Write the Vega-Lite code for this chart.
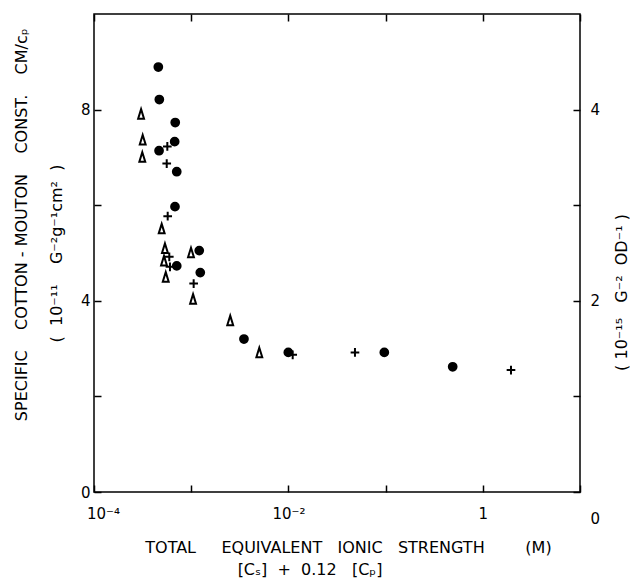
{
  "$schema": "https://vega.github.io/schema/vega-lite/v6.json",
  "width": 486,
  "height": 478,
  "autosize": "none",
  "padding": {"left": 94, "top": 14, "right": 50, "bottom": 88},
  "background": "white",
  "config": {
    "view": {"stroke": "black", "strokeWidth": 1.5},
    "font": "DejaVu Sans",
    "axis": {
      "domain": false,
      "grid": false,
      "tickColor": "black",
      "tickWidth": 1.5,
      "tickSize": -7,
      "labelColor": "black",
      "labelFont": "DejaVu Sans",
      "labelFontSize": 15,
      "titleFont": "DejaVu Sans",
      "titleFontSize": 16,
      "titleFontWeight": "normal",
      "titleColor": "black"
    }
  },
  "title": {
    "text": "[Cₛ]\u00a0\u00a0+\u00a0\u00a00.12\u00a0\u00a0\u00a0[Cₚ]",
    "orient": "bottom",
    "anchor": "middle",
    "frame": "group",
    "dx": -27,
    "offset": 7,
    "font": "DejaVu Sans",
    "fontSize": 16,
    "fontWeight": "normal",
    "color": "black"
  },
  "data": {
    "values": [
      {"series": "circle", "I": 0.000459, "cm": 8.89},
      {"series": "circle", "I": 0.000470, "cm": 8.21},
      {"series": "circle", "I": 0.000685, "cm": 7.73},
      {"series": "circle", "I": 0.000676, "cm": 7.33},
      {"series": "circle", "I": 0.000467, "cm": 7.14},
      {"series": "circle", "I": 0.000710, "cm": 6.70},
      {"series": "circle", "I": 0.000681, "cm": 5.97},
      {"series": "circle", "I": 0.000710, "cm": 4.73},
      {"series": "circle", "I": 0.00121, "cm": 5.05},
      {"series": "circle", "I": 0.00124, "cm": 4.59},
      {"series": "circle", "I": 0.00349, "cm": 3.20},
      {"series": "circle", "I": 0.00998, "cm": 2.92},
      {"series": "circle", "I": 0.097, "cm": 2.92},
      {"series": "circle", "I": 0.49, "cm": 2.62},
      {"series": "plus", "I": 0.000568, "cm": 7.23},
      {"series": "plus", "I": 0.000560, "cm": 6.87},
      {"series": "plus", "I": 0.000573, "cm": 5.77},
      {"series": "plus", "I": 0.000595, "cm": 4.92},
      {"series": "plus", "I": 0.000605, "cm": 4.71},
      {"series": "plus", "I": 0.00106, "cm": 4.36},
      {"series": "plus", "I": 0.01107, "cm": 2.87},
      {"series": "plus", "I": 0.0484, "cm": 2.92},
      {"series": "plus", "I": 1.95, "cm": 2.55},
      {"series": "triangle", "I": 0.000305, "cm": 7.91},
      {"series": "triangle", "I": 0.000317, "cm": 7.37},
      {"series": "triangle", "I": 0.000314, "cm": 7.01},
      {"series": "triangle", "I": 0.000497, "cm": 5.51},
      {"series": "triangle", "I": 0.000537, "cm": 5.10},
      {"series": "triangle", "I": 0.000525, "cm": 4.84},
      {"series": "triangle", "I": 0.000547, "cm": 4.50},
      {"series": "triangle", "I": 0.000995, "cm": 5.01},
      {"series": "triangle", "I": 0.001045, "cm": 4.04},
      {"series": "triangle", "I": 0.00252, "cm": 3.59},
      {"series": "triangle", "I": 0.00502, "cm": 2.92}
    ]
  },
  "resolve": {"scale": {"y": "independent"}, "axis": {"x": "independent", "y": "independent"}},
  "layer": [
    {
      "mark": {"type": "point", "filled": true, "strokeWidth": 2, "opacity": 1},
      "encoding": {
        "x": {
          "field": "I",
          "type": "quantitative",
          "scale": {"type": "log", "domain": [0.0001, 10]},
          "axis": {
            "orient": "bottom",
            "values": [0.0001, 0.001, 0.01, 0.1, 1, 10],
            "labelExpr": "datum.value < 0.0002 ? '10⁻⁴' : (datum.value > 0.005 && datum.value < 0.02) ? '10⁻²' : (datum.value > 0.5 && datum.value < 2) ? '1' : ''",
            "labelOffset": {"condition": {"test": "datum.value < 0.0002", "value": 9}, "value": 0},
            "labelPadding": 21,
            "labelFlush": false,
            "labelOverlap": false,
            "titlePadding": 18,
            "title": "\u2800\u00a0\u00a0TOTAL\u00a0\u00a0\u00a0\u00a0\u00a0EQUIVALENT\u00a0\u00a0\u00a0IONIC\u00a0\u00a0\u00a0STRENGTH\u00a0\u00a0\u00a0\u00a0\u00a0\u00a0\u00a0\u00a0(M)"
          }
        },
        "y": {
          "field": "cm",
          "type": "quantitative",
          "scale": {"domain": [0, 10]},
          "axis": {
            "orient": "left",
            "values": [0, 2, 4, 6, 8],
            "labelExpr": "datum.value % 4 == 0 ? datum.label : ''",
            "labelPadding": 11,
            "titlePadding": 16,
            "titleLineHeight": 35,
            "title": ["\u2800\u00a0\u00a0\u00a0\u00a0\u00a0\u00a0\u00a0\u00a0\u00a0SPECIFIC\u00a0\u00a0\u00a0\u00a0COTTON\u00a0-\u00a0MOUTON\u00a0\u00a0\u00a0\u00a0CONST.\u00a0\u00a0\u00a0\u00a0CM/cₚ", "(\u00a0\u00a010⁻¹¹\u00a0\u00a0\u00a0\u00a0G⁻²g⁻¹cm²\u00a0\u00a0)"]
          }
        },
        "shape": {
          "field": "series",
          "type": "nominal",
          "scale": {"domain": ["circle", "plus", "triangle"], "range": ["circle", "M-1,0H1M0,-1V1", "M0,-1L0.62,1L-0.62,1Z"]},
          "legend": null
        },
        "fill": {
          "field": "series",
          "type": "nominal",
          "scale": {"domain": ["circle", "plus", "triangle"], "range": ["black", "white", "white"]},
          "legend": null
        },
        "size": {
          "field": "series",
          "type": "nominal",
          "scale": {"domain": ["circle", "plus", "triangle"], "range": [60, 90, 80]},
          "legend": null
        },
        "stroke": {"value": "black"}
      }
    },
    {
      "mark": {"type": "point", "opacity": 0},
      "encoding": {
        "x": {
          "datum": 1,
          "type": "quantitative",
          "scale": {"type": "log", "domain": [0.0001, 10]},
          "axis": {"orient": "top", "values": [0.0001, 0.001, 0.01, 0.1, 1, 10], "labels": false, "title": null}
        },
        "y": {
          "datum": 0,
          "type": "quantitative",
          "scale": {"domain": [0, 5]},
          "axis": {
            "orient": "right",
            "values": [0, 1, 2, 3, 4],
            "labelExpr": "datum.value % 2 == 0 ? datum.label : ''",
            "labelOffset": {"condition": {"test": "datum.value == 0", "value": 26}, "value": 0},
            "labelPadding": 17,
            "titleAngle": -90,
            "titleBaseline": "top",
            "titleY": 278,
            "titlePadding": 14,
            "title": "(\u00a010⁻¹⁵\u00a0\u00a0\u00a0G⁻²\u00a0\u00a0OD⁻¹\u00a0)"
          }
        }
      }
    }
  ]
}
